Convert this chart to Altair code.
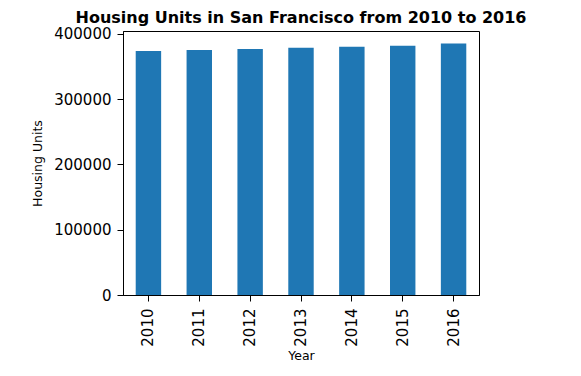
import altair as alt
import pandas as pd

years = ["2010", "2011", "2012", "2013", "2014", "2015", "2016"]
units = [373700, 375200, 376700, 378700, 380200, 381700, 385200]
y_ticks = [0, 100000, 200000, 300000, 400000]

df = pd.DataFrame({"Year": years, "Housing Units": units})

FONT = "DejaVu Sans"

chart = (
    alt.Chart(df)
    .mark_bar(color="#1f77b4")
    .encode(
        x=alt.X(
            "Year:N",
            sort=years,
            scale=alt.Scale(paddingInner=0.5, paddingOuter=0.25),
            axis=alt.Axis(
                title="Year",
                labelAngle=-90,
                labelFontSize=15,
                labelFont=FONT,
                labelColor="black",
                labelPadding=7,
                tickSize=6,
                tickColor="black",
                domainColor="black",
                titleFont=FONT,
                titleFontSize=12.5,
                titleFontWeight="normal",
                titleColor="black",
                titlePadding=3,
            ),
        ),
        y=alt.Y(
            "Housing Units:Q",
            scale=alt.Scale(domain=[0, 404460], nice=False, zero=True),
            axis=alt.Axis(
                title="Housing Units",
                values=y_ticks,
                format="d",
                grid=False,
                labelFontSize=15,
                labelFont=FONT,
                labelColor="black",
                labelPadding=6,
                tickSize=6,
                tickColor="black",
                domainColor="black",
                titleFont=FONT,
                titleFontSize=12.5,
                titleFontWeight="normal",
                titleColor="black",
                titlePadding=9,
            ),
        ),
    )
    .properties(
        width=356,
        height=264,
        autosize=alt.AutoSizeParams(type="none"),
        padding={"left": 115, "top": 23, "right": 86, "bottom": 75},
        title=alt.TitleParams(
            "Housing Units in San Francisco from 2010 to 2016",
            font=FONT,
            fontSize=16,
            fontWeight="bold",
            color="black",
            anchor="middle",
            frame="group",
            offset=1,
        ),
    )
    .configure(background="white")
    .configure_view(stroke="black", strokeWidth=1)
)

chart.save("out.html", embed_options={"renderer": "svg", "actions": False})
